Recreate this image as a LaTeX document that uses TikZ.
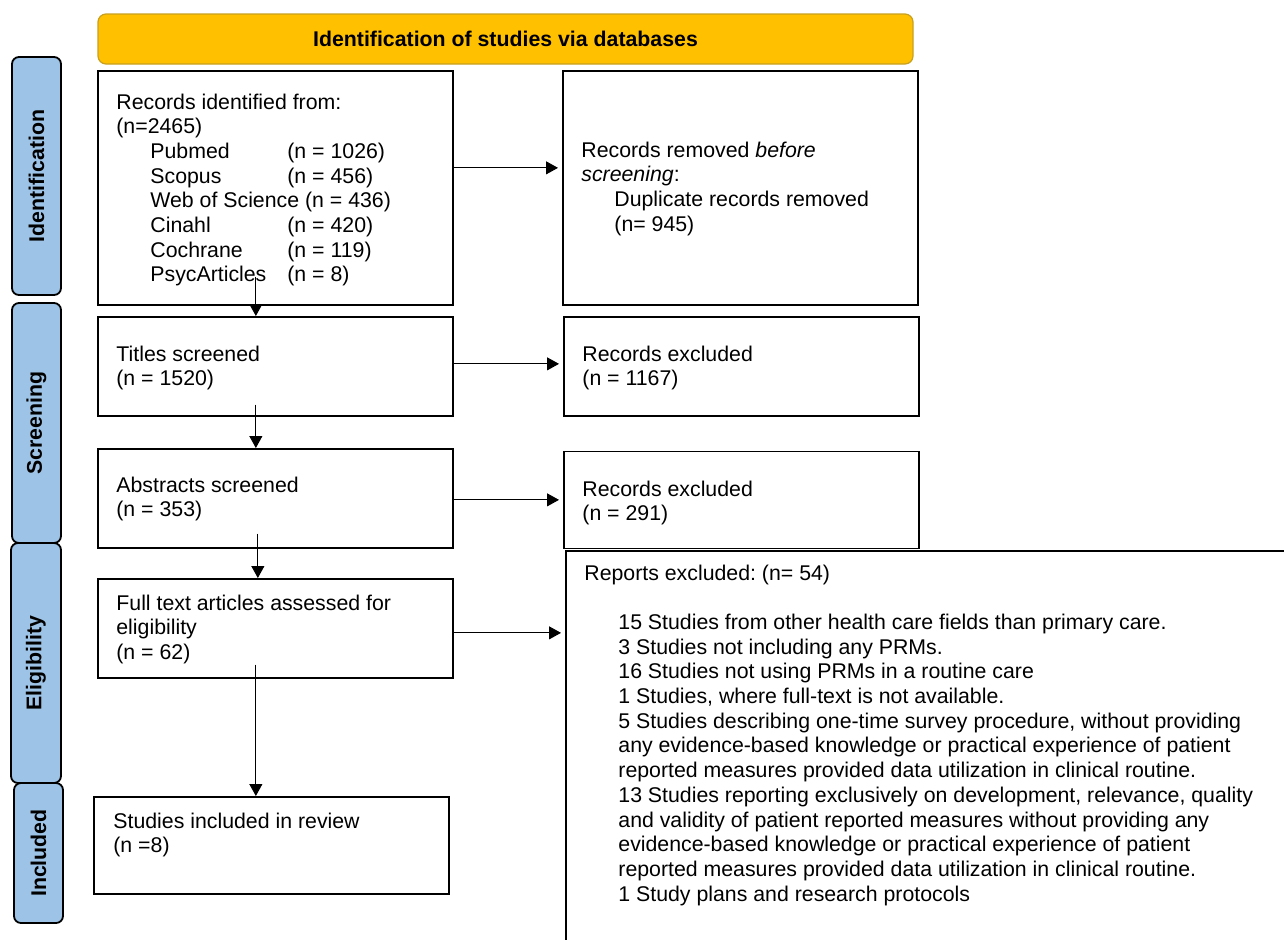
\documentclass[tikz,border=0pt]{standalone}
\usepackage{fontspec}
\setmainfont{Liberation Sans}
\usetikzlibrary{arrows.meta}
\definecolor{bannerfill}{RGB}{255,192,0}
\definecolor{bannerline}{RGB}{200,160,30}
\definecolor{phasefill}{RGB}{157,195,230}
\newcommand{\dbname}[1]{\makebox[68.5pt][l]{#1}}
\newcommand{\rows}[1]{\begin{tabular}[t]{@{}l@{}}#1\end{tabular}}
\frenchspacing

\begin{document}
\begin{tikzpicture}[x=0.5pt,y=-0.5pt,
  every node/.style={font=\fontsize{10.65}{12.35}\selectfont},
  box/.style={draw,line width=0.85pt,anchor=north west,inner sep=0pt},
  txt/.style={anchor=base west,inner sep=0pt},
  phase/.style={draw,line width=0.9pt,fill=phasefill,rounded corners=3.5pt,rotate=90,
    inner sep=0pt,font=\fontsize{10.65}{12.35}\selectfont\bfseries},
  arr/.style={-{Triangle[length=6pt,width=6.5pt]},line width=0.5pt}]
  \clip (0,0) rectangle (1284,939);

  % banner
  \node[draw=bannerline,line width=0.6pt,fill=bannerfill,rounded corners=4pt,
    minimum width=407.5pt,minimum height=25pt,
    font=\fontsize{10.65}{12.35}\selectfont\bfseries] (banner) at (505.5,39)
    {Identification of studies via databases};

  % phases on the left
  \node[phase,minimum width=119pt,minimum height=24.5pt] (identph) at (36.5,176) {Identification};
  \node[phase,minimum width=120pt,minimum height=24.5pt] (screenph) at (36.5,423) {Screening};
  \node[phase,minimum width=120pt,minimum height=25pt] (eligph) at (36,663) {Eligibility};
  \node[phase,minimum width=70pt,minimum height=24.5pt] (inclph) at (38.5,853) {Included};

  % main column
  \node[box,minimum width=177.5pt,minimum height=117pt] (recid) at (97,70) {};
  \node[box,minimum width=177.5pt,minimum height=49.5pt] (titles) at (97,316) {};
  \node[box,minimum width=177.5pt,minimum height=49.5pt] (abstr) at (97,448) {};
  \node[box,minimum width=177.5pt,minimum height=49.5pt] (fulltext) at (97,578) {};
  \node[box,minimum width=177.5pt,minimum height=48.5pt] (incl) at (93,796) {};

  % excluded column
  \node[box,minimum width=177.5pt,minimum height=117pt] (removed) at (562,70) {};
  \node[box,minimum width=177.5pt,minimum height=49.5pt] (exclA) at (563,316) {};
  \node[box,minimum width=177.5pt,minimum height=48.5pt] (exclB) at (563,450.5) {};
  \node[box,minimum width=370pt,minimum height=205pt] (reports) at (565,550) {};

  % texts
  \node[txt] (recidtxt) at (116,109) {\rows{Records identified from:\\
    (n=2465)\\
    \hspace*{17pt}\dbname{Pubmed}(n = 1026)\\
    \hspace*{17pt}\dbname{Scopus}(n = 456)\\
    \hspace*{17pt}Web of Science (n = 436)\\
    \hspace*{17pt}\dbname{Cinahl}(n = 420)\\
    \hspace*{17pt}\dbname{Cochrane}(n = 119)\\
    \hspace*{17pt}\dbname{PsycArticles}(n = 8)}};
  \node[txt] (titlestxt) at (116,361) {\rows{Titles screened\\(n = 1520)}};
  \node[txt] (abstrtxt) at (116,492) {\rows{Abstracts screened\\(n = 353)}};
  \node[txt] (fulltexttxt) at (116,610) {\rows{Full text articles assessed for\\eligibility\\(n = 62)}};
  \node[txt] (incltxt) at (113,828) {\rows{Studies included in review\\(n =8)}};
  \node[txt] (removedtxt) at (581,157) {\rows{Records removed \textit{before}\\
    \textit{screening}:\\
    \hspace*{16.5pt}Duplicate records removed\\
    \hspace*{16.5pt}(n= 945)}};
  \node[txt] (excltxtA) at (582,361) {\rows{Records excluded\\(n = 1167)}};
  \node[txt] (excltxtB) at (582,496) {\rows{Records excluded\\(n = 291)}};
  \node[txt] (reportstxt) at (584,580) {\rows{Reports excluded: (n= 54)\\
    \mbox{}\\
    \hspace*{17pt}15 Studies from other health care fields than primary care.\\
    \hspace*{17pt}3 Studies not including any PRMs.\\
    \hspace*{17pt}16 Studies not using PRMs in a routine care\\
    \hspace*{17pt}1 Studies, where full-text is not available.\\
    \hspace*{17pt}5 Studies describing one-time survey procedure, without providing\\
    \hspace*{17pt}any evidence-based knowledge or practical experience of patient\\
    \hspace*{17pt}reported measures provided data utilization in clinical routine.\\
    \hspace*{17pt}13 Studies reporting exclusively on development, relevance, quality\\
    \hspace*{17pt}and validity of patient reported measures without providing any\\
    \hspace*{17pt}evidence-based knowledge or practical experience of patient\\
    \hspace*{17pt}reported measures provided data utilization in clinical routine.\\
    \hspace*{17pt}1 Study plans and research protocols}};

  % arrows down
  \draw[arr] ([shift={(-19.5,-29)}]recid.south) -- ([shift={(-19.5,0)}]titles.north);
  \draw[arr] ([shift={(-19.5,-12)}]titles.south) -- ([shift={(-19.5,0)}]abstr.north);
  \draw[arr] ([shift={(-17.5,-15)}]abstr.south) -- ([shift={(-17.5,0)}]fulltext.north);
  \draw[arr] ([shift={(-19.5,-14)}]fulltext.south) -- ([shift={(-15.5,0)}]incl.north);

  % arrows right
  \draw[arr,shorten >=2pt] ([yshift=10pt]recid.east) -- ([yshift=10pt]removed.west);
  \draw[arr,shorten >=2pt] ([yshift=1.25pt]titles.east) -- ([yshift=1.25pt]exclA.west);
  \draw[arr,shorten >=2pt] ([yshift=-0.75pt]abstr.east) -- (exclB.west);
  \coordinate (ftout) at ([yshift=-2.25pt]fulltext.east);
  \draw[arr,shorten >=2pt] (ftout) -- (ftout -| reports.west);
\end{tikzpicture}
\end{document}
